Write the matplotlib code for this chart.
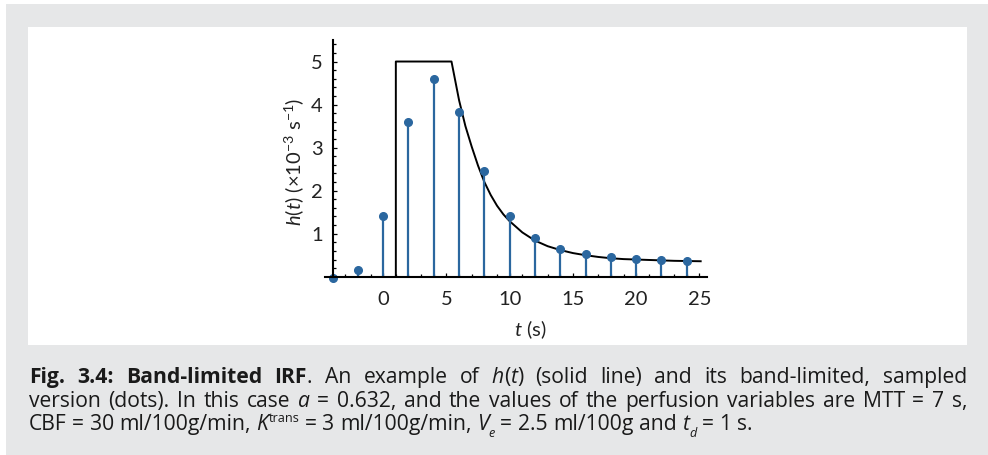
import matplotlib

matplotlib.use("Agg")
import matplotlib.pyplot as plt
import matplotlib.transforms as mtransforms
from matplotlib.patches import Rectangle
from matplotlib.ticker import MultipleLocator

plt.rcParams["font.family"] = ["Lato", "DejaVu Sans"]
plt.rcParams["mathtext.fontset"] = "custom"
plt.rcParams["mathtext.rm"] = "Lato"
plt.rcParams["mathtext.it"] = "Lato:italic"
plt.rcParams["mathtext.bf"] = "Lato:bold"

# sampled, band-limited IRF (dots)
t_samp = [-4, -2, 0, 2, 4, 6, 8, 10, 12, 14, 16, 18, 20, 22, 24]
h_samp = [-0.03, 0.15, 1.42, 3.6, 4.6, 3.82, 2.45, 1.42, 0.89, 0.65, 0.53, 0.46, 0.42, 0.39, 0.37]

# continuous h(t)
t_curve = [1, 1, 5.4, 5.7, 6, 6.5, 7, 7.5, 8, 8.5, 9, 9.5, 10, 11, 12, 13, 14, 15,
           16, 17, 18, 19, 20, 21, 22, 23, 24, 25.1]
h_curve = [0, 5, 5, 4.55, 4.1, 3.5, 3.02, 2.58, 2.2, 1.9, 1.65, 1.45, 1.29, 1.03, 0.84,
           0.71, 0.62, 0.55, 0.5, 0.46, 0.43, 0.41, 0.4, 0.39, 0.38, 0.37, 0.365, 0.36]

x_ticks = [0, 5, 10, 15, 20, 25]
y_ticks = [1, 2, 3, 4, 5]

BLUE = "#2b679f"
GRAY = "#e6e7e8"
INK = "#222222"

W, H = 988, 455
fig = plt.figure(figsize=(W / 100, H / 100), dpi=100)
fig.patch.set_facecolor("white")

# gray frame + white panel, in pixel coords
px = mtransforms.IdentityTransform()
fig.patches.append(Rectangle((6, 0), W - 6, H - 4, transform=px, facecolor=GRAY,
                             edgecolor="none", zorder=-2))
fig.patches.append(Rectangle((28, H - 345), 939, 318, transform=px, facecolor="white",
                             edgecolor="none", zorder=-1))

ax = fig.add_axes([325 / W, 1 - 283.2 / H, 382 / W, 243.2 / H])
ax.set_facecolor("none")
ax.set_xlim(-4.6, 25.6)
ax.set_ylim(-0.15, 5.5)

ax.plot(t_curve, h_curve, color="black", lw=1.4, zorder=2)
ax.vlines(t_samp, 0, h_samp, color=BLUE, lw=1.6, zorder=3)
ax.plot(t_samp, h_samp, "o", color=BLUE, ms=5.5, zorder=4, clip_on=False)

for side in ("top", "right"):
    ax.spines[side].set_visible(False)
ax.spines["left"].set_position(("data", -4))
ax.spines["left"].set_bounds(0, 5.5)
ax.spines["bottom"].set_position(("data", 0))
ax.spines["bottom"].set_bounds(-4.6, 25.6)
for side in ("left", "bottom"):
    ax.spines[side].set_linewidth(1.5)
    ax.spines[side].set_zorder(5)

ax.set_xticks(x_ticks)
ax.set_yticks(y_ticks)
ax.xaxis.set_minor_locator(MultipleLocator(1))
ax.yaxis.set_minor_locator(MultipleLocator(0.2))
ax.tick_params(which="both", direction="in", width=0.9, color="black")
ax.tick_params(which="major", length=3)
ax.tick_params(which="minor", length=2)
ax.tick_params(axis="x", which="major", pad=10, labelsize=14.5, labelcolor=INK)
ax.tick_params(axis="y", which="major", pad=7, labelsize=14.5, labelcolor=INK)

ax.set_xlabel(r"$t$ (s)", fontsize=14.5, color=INK)
ax.xaxis.set_label_coords(0.537, -0.145)
ax.set_ylabel(r"$h$($t$) (×10$^{-3}$ s$^{-1}$)", fontsize=14.5, color=INK)
ax.yaxis.set_label_coords(-0.05, 0.5)

# caption, justified between the panel edges
CAP_FONT = ["Open Sans", "DejaVu Sans"]
caption = [
    [[("Fig.", "b")], [("3.4:", "b")], [("Band-limited", "b")], [("IRF", "b"), (".", "n")],
     [("An", "n")], [("example", "n")], [("of", "n")],
     [("h", "i"), ("(", "n"), ("t", "i"), (")", "n")], [("(solid", "n")], [("line)", "n")],
     [("and", "n")], [("its", "n")], [("band-limited,", "n")], [("sampled", "n")]],
    [[("version", "n")], [("(dots).", "n")], [("In", "n")], [("this", "n")], [("case", "n")],
     [("a", "i")], [("=", "n")], [("0.632,", "n")], [("and", "n")], [("the", "n")],
     [("values", "n")], [("of", "n")], [("the", "n")], [("perfusion", "n")],
     [("variables", "n")], [("are", "n")], [("MTT", "n")], [("=", "n")], [("7", "n")],
     [("s,", "n")]],
    [[("CBF", "n")], [("=", "n")], [("30", "n")], [("ml/100g/min,", "n")],
     [("K", "i"), ("trans", "sup")], [("=", "n")], [("3", "n")], [("ml/100g/min,", "n")],
     [("V", "i"), ("e", "subi")], [("=", "n")], [("2.5", "n")], [("ml/100g", "n")],
     [("and", "n")], [("t", "i"), ("d", "subi")], [("=", "n")], [("1", "n")], [("s.", "n")]],
]
line_y = [H - 383, H - 407, H - 430]
justify = [True, True, False]
x_left, x_right, last_right = 29, 967, 753


def run_kw(style, size):
    kw = dict(fontsize=size, color="#1a1a1a", transform=px, va="baseline", ha="left",
              family=CAP_FONT)
    if style == "b":
        kw["fontweight"] = "bold"
    if style in ("i", "subi"):
        kw["fontstyle"] = "italic"
    if style in ("sup", "subi"):
        kw["fontsize"] = size * 0.6
    return kw


renderer = fig.canvas.get_renderer()


def width(s, kw):
    t = fig.text(0, 0, s, **kw)
    w = t.get_window_extent(renderer).width
    t.remove()
    return w


def natural_width(words, size):
    sp = width("n n", run_kw("n", size)) - width("nn", run_kw("n", size))
    runs = sum(width(s, run_kw(st, size)) for w in words for s, st in w)
    return runs + sp * (len(words) - 1)


# size the caption so the unjustified last line ends where it does in the figure
CAP = 12.0
CAP *= (last_right - x_left) / natural_width(caption[2], CAP)

space = width("n n", run_kw("n", CAP)) - width("nn", run_kw("n", CAP))
for words, y, just in zip(caption, line_y, justify):
    widths = [[width(s, run_kw(st, CAP)) for s, st in w] for w in words]
    total = sum(sum(ws) for ws in widths)
    gap = (x_right - x_left - total) / (len(words) - 1) if just else space
    x = x_left
    for w, ws in zip(words, widths):
        for (s, st), rw in zip(w, ws):
            dy = {"sup": CAP * 0.55, "subi": -CAP * 0.45}.get(st, 0)
            fig.text(x, y + dy, s, **run_kw(st, CAP))
            x += rw
        x += gap

fig.savefig("out.png", dpi=100)
